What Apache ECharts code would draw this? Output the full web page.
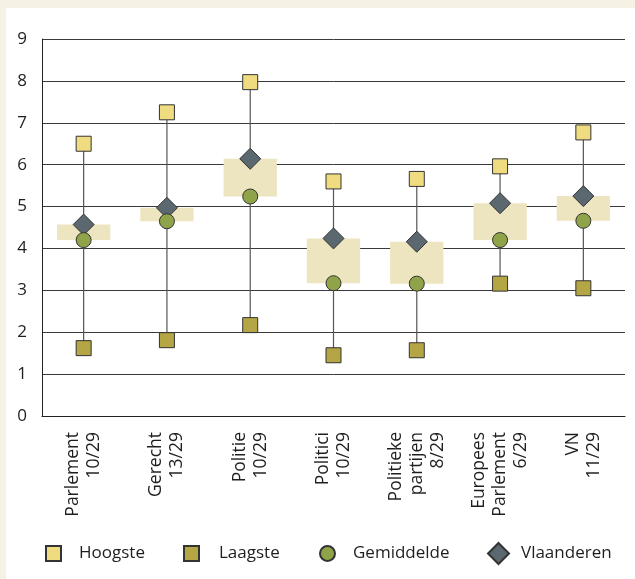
<!DOCTYPE html>
<html>
<head>
<meta charset="utf-8">
<script src="https://cdn.jsdelivr.net/npm/echarts@6/dist/echarts.min.js"></script>
<style>
  html, body { margin: 0; padding: 0; background: #f5f1e5; }
  #panel { position: absolute; left: 6px; top: 8px; width: 629px; height: 571px; background: #ffffff; }
  #chart { position: absolute; left: 0; top: 0; width: 635px; height: 579px; }
</style>
</head>
<body>
<div id="panel"></div>
<div id="chart"></div>
<script>
var categories = ['Parlement\n10/29', 'Gerecht\n13/29', 'Politie\n10/29', 'Politici\n10/29',
    'Politieke\npartijen\n8/29', 'Europees\nParlement\n6/29', 'VN\n11/29'];
var hoogste = [6.5, 7.25, 7.97, 5.6, 5.66, 5.96, 6.77];
var laagste = [1.62, 1.81, 2.17, 1.45, 1.57, 3.16, 3.05];
var gemiddelde = [4.2, 4.65, 5.24, 3.17, 3.16, 4.2, 4.66];
var vlaanderen = [4.57, 4.97, 6.14, 4.24, 4.16, 5.08, 5.25];
var yTicks = [0, 1, 2, 3, 4, 5, 6, 7, 8, 9];

var chart = echarts.init(document.getElementById('chart'));

var whiskerData = categories.map(function (c, i) { return [i, laagste[i], hoogste[i]]; });
var boxData = categories.map(function (c, i) { return [i, gemiddelde[i], vlaanderen[i]]; });

var font = '"Open Sans", "Noto Sans", sans-serif';

// one legend per item so each can sit where the original puts it
function legendItem(name, icon, left, top, w, h, gap) {
    return {
        left: left,
        top: top,
        padding: 0,
        itemWidth: w,
        itemHeight: h,
        textStyle: { fontSize: 17, color: '#1e1e1e', fontFamily: font, padding: [0, 0, 0, gap] },
        data: [{ name: name, icon: icon }]
    };
}

var option = {
    animation: false,
    textStyle: { fontFamily: font },
    grid: { left: 42, right: 10, top: 39, bottom: 163 },
    legend: [
        legendItem('Hoogste', 'rect', 45, 545, 15, 15, 13),
        legendItem('Laagste', 'rect', 183, 545, 15, 15, 15),
        legendItem('Gemiddelde', 'circle', 319, 545, 15, 15, 13),
        legendItem('Vlaanderen', 'diamond', 487, 542, 21, 21, 7)
    ],
    xAxis: {
        type: 'category',
        data: categories,
        boundaryGap: true,
        axisLine: { lineStyle: { color: '#222', width: 1 } },
        axisTick: { inside: true, length: 12, lineStyle: { color: '#777' } },
        axisLabel: { rotate: 90, fontSize: 17.5, color: '#1e1e1e', margin: 16, lineHeight: 21 },
        splitLine: { show: false }
    },
    yAxis: {
        type: 'value',
        min: yTicks[0],
        max: yTicks[yTicks.length - 1],
        interval: 1,
        axisLine: { show: true, lineStyle: { color: '#222' } },
        axisTick: { show: false },
        axisLabel: { fontSize: 17, color: '#1e1e1e', margin: 15 },
        splitLine: { lineStyle: { color: '#3a3a3a', width: 1 } }
    },
    series: [
        {
            name: 'whisker',
            type: 'custom',
            data: whiskerData,
            encode: { x: 0, y: [1, 2] },
            z: 1,
            renderItem: function (params, api) {
                var a = api.coord([api.value(0), api.value(1)]);
                var b = api.coord([api.value(0), api.value(2)]);
                return {
                    type: 'line',
                    shape: { x1: a[0], y1: a[1], x2: b[0], y2: b[1] },
                    style: { stroke: '#555', lineWidth: 1.2 }
                };
            }
        },
        {
            name: 'box',
            type: 'custom',
            data: boxData,
            encode: { x: 0, y: [1, 2] },
            z: 2,
            renderItem: function (params, api) {
                var a = api.coord([api.value(0), api.value(1)]);
                var b = api.coord([api.value(0), api.value(2)]);
                var w = api.size([1, 0])[0] * 0.64;
                return {
                    type: 'rect',
                    shape: { x: a[0] - w / 2, y: Math.min(a[1], b[1]), width: w, height: Math.abs(a[1] - b[1]) },
                    style: { fill: '#ede5bf' }
                };
            }
        },
        {
            name: 'Hoogste',
            type: 'scatter',
            symbol: 'rect',
            symbolSize: 15,
            z: 3,
            itemStyle: { color: '#f0dc80', borderColor: '#333', borderWidth: 1, opacity: 1 },
            data: hoogste
        },
        {
            name: 'Laagste',
            type: 'scatter',
            symbol: 'rect',
            symbolSize: 15,
            z: 3,
            itemStyle: { color: '#b4a545', borderColor: '#333', borderWidth: 1, opacity: 1 },
            data: laagste
        },
        {
            name: 'Vlaanderen',
            type: 'scatter',
            symbol: 'diamond',
            symbolSize: 21,
            z: 3,
            itemStyle: { color: '#5b6870', borderColor: '#333', borderWidth: 1, opacity: 1 },
            data: vlaanderen
        },
        {
            name: 'Gemiddelde',
            type: 'scatter',
            symbol: 'circle',
            symbolSize: 15,
            z: 4,
            itemStyle: { color: '#8fa448', borderColor: '#333', borderWidth: 1, opacity: 1 },
            data: gemiddelde
        }
    ]
};

chart.setOption(option);
</script>
</body>
</html>
